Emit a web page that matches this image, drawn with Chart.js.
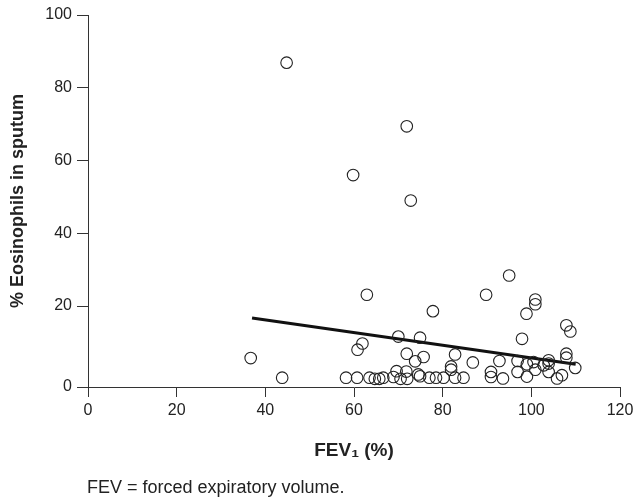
<!DOCTYPE html>
<html>
<head>
<meta charset="utf-8">
<script src="https://cdn.jsdelivr.net/npm/chart.js@4.4.1/dist/chart.umd.min.js"></script>
<style>
  body { margin: 0; background: #fff; }
  #wrap { position: relative; width: 634px; height: 504px; }
  #note { position: absolute; left: 87px; top: 477px; font: 18px "Liberation Sans", Arial, sans-serif; color: #222; }
</style>
</head>
<body>
<div id="wrap">
  <canvas id="eosChart" width="634" height="504"></canvas>
  <div id="note">FEV = forced expiratory volume.</div>
</div>
<script>
// FEV1 (%) vs % eosinophils in sputum
const fevValues = [
  44.8, 71.9, 59.8, 72.8, 62.9, 77.8, 89.8, 95.0, 70.0, 74.9,
  36.7, 43.8, 61.9, 60.8, 71.9, 73.8, 75.7,
  58.2, 60.7, 63.5, 64.7, 65.7, 66.6, 68.9, 69.6, 70.5, 71.8, 72.0, 74.5, 74.9, 77.0, 78.5,
  80.2, 82.8, 84.7, 82.8, 81.9, 81.9, 86.8, 90.9, 90.9, 93.6, 92.8,
  97.9, 96.9, 96.9, 99.0, 99.0, 100.9, 100.9, 98.9, 107.9, 108.8, 107.9, 107.9, 109.9,
  100.5, 100.9, 102.8, 103.9, 103.9, 103.9, 105.8, 106.9
];
const eosValues = [
  86.9, 69.4, 56.0, 49.0, 23.1, 18.6, 23.1, 28.4, 11.6, 11.3,
  5.7, 0.3, 9.7, 8.0, 6.9, 4.8, 6.0,
  0.3, 0.3, 0.3, 0.0, 0.0, 0.3, 0.5, 2.1, 0.0, 2.0, 0.0, 1.2, 0.7, 0.3, 0.3,
  0.3, 0.3, 0.3, 6.7, 3.4, 2.5, 4.5, 1.9, 0.5, 0.1, 4.9,
  11.0, 4.9, 1.9, 4.0, 0.6, 21.8, 20.5, 17.9, 14.7, 13.0, 6.9, 5.8, 3.0,
  4.6, 2.5, 3.7, 5.1, 4.2, 1.9, 0.1, 1.0
];
// regression line end points
const fitX = [37, 110];
const fitY = [16.7, 4.0];

const xTicks = [0, 20, 40, 60, 80, 100, 120];
const yBase = -2.25; // the x axis sits a little below zero; that spot is labelled "0"
const yTicks = [yBase, 20, 40, 60, 80, 100];

const ink = '#222';
const axisColor = '#333';

const points = fevValues.map((x, i) => ({ x: x, y: eosValues[i] }));
const fitLine = fitX.map((x, i) => ({ x: x, y: fitY[i] }));

new Chart(document.getElementById('eosChart'), {
  type: 'scatter',
  data: {
    datasets: [{
      data: points,
      pointRadius: 5.8,
      pointHoverRadius: 5.8,
      pointBorderWidth: 1.1,
      borderColor: ink,
      backgroundColor: 'rgba(0,0,0,0)'
    }, {
      data: fitLine,
      showLine: true,
      pointRadius: 0,
      borderColor: '#111',
      borderWidth: 3
    }]
  },
  options: {
    responsive: false,
    animation: false,
    layout: { padding: { left: 0, right: 14, top: 15, bottom: 37 } },
    plugins: { legend: { display: false }, tooltip: { enabled: false } },
    scales: {
      x: {
        type: 'linear',
        min: 0,
        max: 120,
        afterBuildTicks: s => { s.ticks = xTicks.map(v => ({ value: v })); },
        afterFit: s => { s.height = 80; s.paddingRight = 0; s.paddingLeft = 0; },
        grid: { drawOnChartArea: false, tickLength: 10, color: axisColor },
        border: { color: axisColor },
        ticks: { color: ink, font: { family: 'Liberation Sans', size: 16 }, padding: 4, maxRotation: 0 },
        title: {
          display: true,
          text: 'FEV₁ (%)',
          color: ink,
          font: { family: 'Liberation Sans', size: 19, weight: 'bold' },
          padding: { top: 0, bottom: 5 }
        }
      },
      y: {
        type: 'linear',
        min: yBase,
        max: 100,
        afterBuildTicks: s => { s.ticks = yTicks.map(v => ({ value: v })); },
        afterFit: s => { s.width = 88; },
        grid: { drawOnChartArea: false, tickLength: 11, color: axisColor },
        border: { color: axisColor },
        ticks: {
          color: ink,
          font: { family: 'Liberation Sans', size: 16 },
          padding: 5,
          callback: v => (v < 0 ? '0' : v)
        },
        title: {
          display: true,
          text: '% Eosinophils in sputum',
          color: ink,
          font: { family: 'Liberation Sans', size: 18, weight: 'bold' },
          padding: { top: 7, bottom: 0 }
        }
      }
    }
  }
});
</script>
</body>
</html>
